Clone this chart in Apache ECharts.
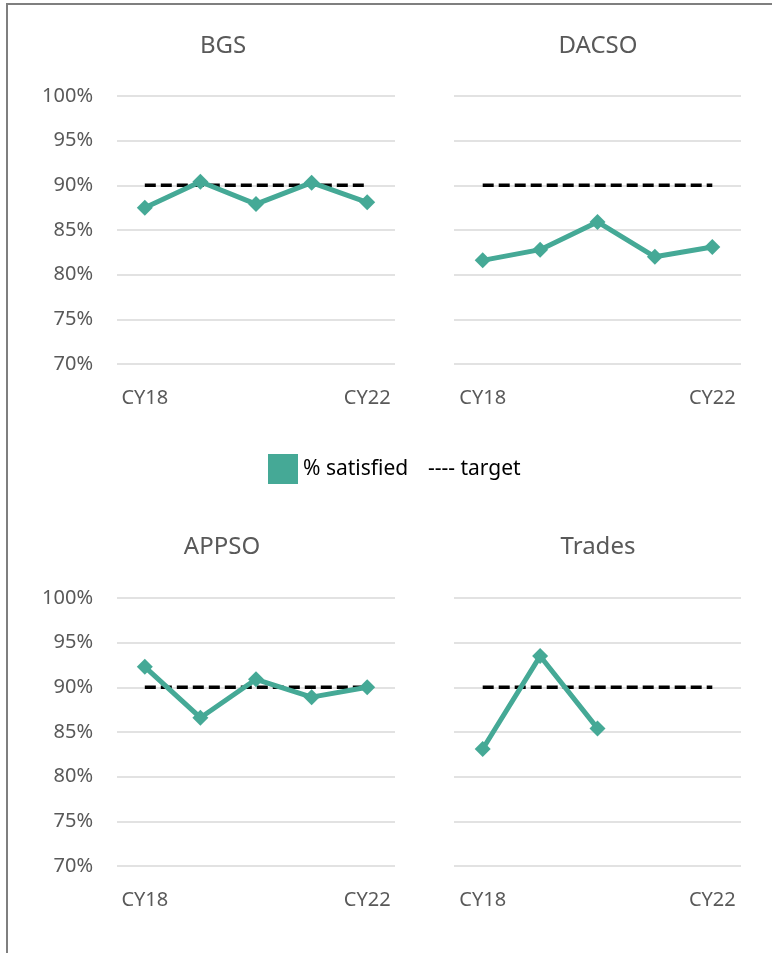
<!DOCTYPE html>
<html>
<head>
<meta charset="utf-8">
<script src="https://cdn.jsdelivr.net/npm/echarts@6/dist/echarts.min.js"></script>
<style>
  html, body { margin: 0; padding: 0; background: #fff; }
  #chart { width: 777px; height: 953px; }
</style>
</head>
<body>
<div id="chart"></div>
<script>
var categories = ['CY18', 'CY19', 'CY20', 'CY21', 'CY22'];
var panelTitles = ['BGS', 'DACSO', 'APPSO', 'Trades'];

var bgsSatisfied = [87.5, 90.4, 87.9, 90.3, 88.1];
var dacsoSatisfied = [81.6, 82.8, 85.9, 82.0, 83.1];
var appsoSatisfied = [92.3, 86.6, 90.9, 88.9, 90.0];
var tradesSatisfied = [83.1, 93.5, 85.4, null, null];
var targetValues = [90, 90, 90, 90, 90];

var yTicks = [70, 75, 80, 85, 90, 95, 100];

var satisfiedSets = [bgsSatisfied, dacsoSatisfied, appsoSatisfied, tradesSatisfied];

var teal = '#45a996';
var labelGrey = '#595959';
var fontName = 'Noto Sans';

// panel boxes: left, top, width, height (px)
var panels = [
    {left: 117, top: 96, width: 278, height: 268, titleX: 223, titleY: 34, yLabels: true},
    {left: 454, top: 96, width: 287, height: 268, titleX: 598, titleY: 34, yLabels: false},
    {left: 117, top: 598, width: 278, height: 268, titleX: 222, titleY: 535, yLabels: true},
    {left: 454, top: 598, width: 287, height: 268, titleX: 598, titleY: 535, yLabels: false}
];

var chart = echarts.init(document.getElementById('chart'));

var grids = [], xAxes = [], yAxes = [], titles = [], series = [];

panels.forEach(function (p, i) {
    grids.push({left: p.left, top: p.top, width: p.width, height: p.height});
    titles.push({
        text: panelTitles[i],
        left: p.titleX,
        top: p.titleY,
        textAlign: 'center',
        padding: 0,
        textStyle: {fontFamily: fontName, fontSize: 24, fontWeight: 'normal', color: labelGrey}
    });
    xAxes.push({
        type: 'category',
        gridIndex: i,
        data: categories,
        boundaryGap: true,
        axisLine: {show: false},
        axisTick: {show: false},
        axisLabel: {
            interval: function (idx) { return idx === 0 || idx === categories.length - 1; },
            margin: 24,
            fontFamily: fontName,
            fontSize: 20,
            color: labelGrey
        }
    });
    yAxes.push({
        type: 'value',
        gridIndex: i,
        min: yTicks[0],
        max: yTicks[yTicks.length - 1],
        interval: 5,
        axisLine: {show: false},
        axisTick: {show: false},
        splitLine: {lineStyle: {color: '#d9d9d9', width: 1.5}},
        axisLabel: {
            show: p.yLabels,
            formatter: '{value}%',
            margin: 24,
            fontFamily: fontName,
            fontSize: 20,
            color: labelGrey
        }
    });
    series.push({
        name: 'target',
        type: 'line',
        xAxisIndex: i,
        yAxisIndex: i,
        data: targetValues,
        showSymbol: false,
        symbol: 'none',
        lineStyle: {color: '#000', width: 3.5, type: [11, 5]},
        itemStyle: {color: '#000'},
        silent: true,
        z: 2
    });
    series.push({
        name: '% satisfied',
        type: 'line',
        xAxisIndex: i,
        yAxisIndex: i,
        data: satisfiedSets[i],
        symbol: 'diamond',
        symbolSize: 16,
        connectNulls: false,
        lineStyle: {color: teal, width: 5},
        itemStyle: {color: teal},
        z: 3
    });
});

chart.setOption({
    animation: false,
    backgroundColor: '#fff',
    title: titles,
    grid: grids,
    xAxis: xAxes,
    yAxis: yAxes,
    legend: [{
        left: 268,
        top: 454,
        padding: 0,
        data: [{name: '% satisfied', icon: 'rect'}],
        itemWidth: 30,
        itemHeight: 30,
        selectedMode: false,
        textStyle: {fontFamily: fontName, fontSize: 21, color: '#000'}
    }, {
        left: 422,
        top: 454,
        padding: 0,
        data: [{name: 'target', icon: 'none'}],
        itemWidth: 1,
        itemHeight: 30,
        selectedMode: false,
        formatter: function (name) { return '---- ' + name; },
        textStyle: {fontFamily: fontName, fontSize: 21, color: '#000'}
    }],
    graphic: [
        {type: 'line', shape: {x1: 6, y1: 4, x2: 772, y2: 4}, style: {stroke: '#7f7f7f', lineWidth: 2}},
        {type: 'line', shape: {x1: 7, y1: 4, x2: 7, y2: 953}, style: {stroke: '#7f7f7f', lineWidth: 2}}
    ],
    series: series
});
</script>
</body>
</html>
